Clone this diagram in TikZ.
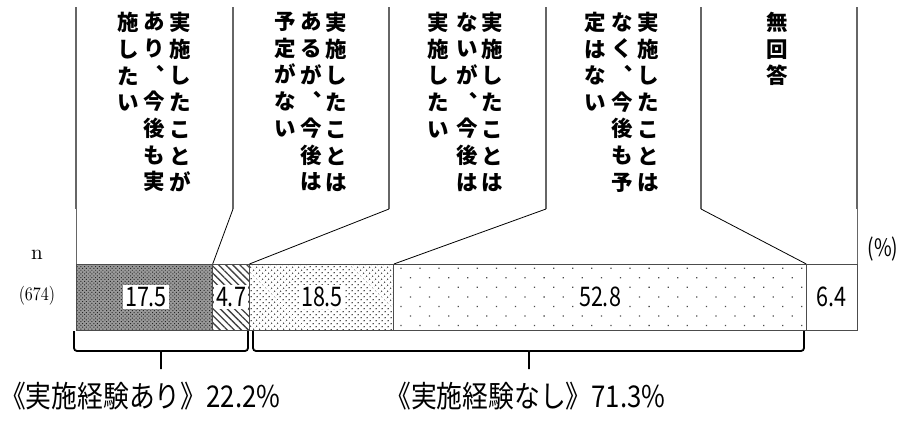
\documentclass[tikz,border=0pt]{standalone}
\usepackage{fontspec}
\usepackage{graphicx}
\usetikzlibrary{patterns.meta}
\newfontfamily\jpfont{Noto Sans CJK JP}
\newcommand{\narrow}[1]{\scalebox{0.8}[1]{#1}}
\newcommand{\wide}[1]{\scalebox{0.86}[1]{#1}}
\begin{document}
\begin{tikzpicture}[x=1pt,y=-1pt]
\useasboundingbox (0,0) rectangle (898,421);
\begin{scope}[every node/.style={inner sep=0pt},
  colline/.style={line width=2pt,black!60},
  sideline/.style={line width=1pt,black!60},
  leader/.style={line width=0.8pt},
  barline/.style={line width=1pt,black!70},
  brace/.style={line width=1.8pt,rounded corners=3pt},
  coltext/.style={anchor=north,align=center,font=\jpfont\bfseries\fontsize{21.5}{26.7}\selectfont},
  val/.style={fill=white,inner sep=2.5pt,font=\jpfont\fontsize{27}{27}\selectfont}]
% column heads
\node[coltext] (a1) at (180,12) {実\\施\\し\\た\\こ\\と\\が};
\node[coltext] (a2) at (154,12) {あ\\り\\︑\\今\\後\\も\\実};
\node[coltext] (a3) at (128,12) {施\\し\\た\\い};
\node[coltext] (b1) at (336,12) {実\\施\\し\\た\\こ\\と\\は};
\node[coltext] (b2) at (311,12) {あ\\る\\が\\︑\\今\\後\\は};
\node[coltext] (b3) at (285,12) {予\\定\\が\\な\\い};
\node[coltext] (c1) at (492,12) {実\\施\\し\\た\\こ\\と\\は};
\node[coltext] (c2) at (467,12) {な\\い\\が\\︑\\今\\後\\は};
\node[coltext] (c3) at (438,12) {実\\施\\し\\た\\い};
\node[coltext] (d1) at (648,12) {実\\施\\し\\た\\こ\\と\\は};
\node[coltext] (d2) at (622,12) {な\\く\\︑\\今\\後\\も\\予};
\node[coltext] (d3) at (595,12) {定\\は\\な\\い};
\node[coltext] (e1) at (777,12) {無\\回\\答};
% column rules
\coordinate (m0) at (76,209);
\coordinate (m1) at (233,209);
\coordinate (m2) at (389,209);
\coordinate (m3) at (546,209);
\coordinate (m4) at (701,209);
\coordinate (m5) at (857,209);
\draw[colline] (m0) -- ++(0,-202);
\draw[colline] (m1) -- ++(0,-202);
\draw[colline] (m2) -- ++(0,-202);
\draw[colline] (m3) -- ++(0,-202);
\draw[colline] (m4) -- ++(0,-202);
\draw[colline] (m5) -- ++(0,-202);
% bar
\coordinate (p0) at (76,264);
\coordinate (p1) at (212.7,264);
\coordinate (p2) at (249.4,264);
\coordinate (p3) at (393.9,264);
\coordinate (p4) at (806.3,264);
\coordinate (p5) at (857,264);
\coordinate (q1) at (212.7,330);
\coordinate (q2) at (249.4,330);
\coordinate (q3) at (393.9,330);
\coordinate (q4) at (806.3,330);
\coordinate (q5) at (857,330);
\draw[barline,preaction={fill=black!40},pattern={Dots[angle=45,distance=2.6pt,radius=0.7pt]},pattern color=black!85] (p0) rectangle (q1);
\draw[barline,pattern={Lines[angle=-45,distance=5pt,line width=1.3pt]},pattern color=black!75] (p1) rectangle (q2);
\draw[barline,pattern={Dots[angle=45,distance=4pt,radius=0.85pt]},pattern color=black!75] (p2) rectangle (q3);
\draw[barline,pattern={Dots[angle=45,distance=13.5pt,radius=0.9pt]},pattern color=black!70] (p3) rectangle (q4);
\draw[barline] (p4) rectangle (q5);
\node[val] (v1) at (146,297) {\narrow{17.5}};
\node[val] (v2) at (231,297) {\narrow{4.7}};
\node[val] (v3) at (322,297) {\narrow{18.5}};
\node[val] (v4) at (600,297) {\narrow{52.8}};
\node[val] (v5) at (831.6,297) {\narrow{6.4}};
% leaders
\draw[sideline] (m0) -- (p0);
\draw[sideline] (m5) -- (p5);
\draw[leader] (m1) -- (p1);
\draw[leader] (m2) -- (p2);
\draw[leader] (m3) -- (p3);
\draw[leader] (m4) -- (p4);
% side labels
\node (n) at (37,255) {\scalebox{2.1}{n}};
\node (size) at (37,296) {\scalebox{1.6}[1.9]{(674)}};
\node (pct) at (883,249) {\jpfont\fontsize{24}{24}\selectfont\narrow{(\%)}};
% braces
\draw[brace] (74,331) -- (74,351) -- (157,351) .. controls (161,351) .. (161,357) -- (161,369);
\draw[brace] (248,331) -- (248,351) -- (165,351) .. controls (161,351) .. (161,357);
\draw[brace] (253,331) -- (253,351) -- (525,351) .. controls (529,351) .. (529,357) -- (529,369);
\draw[brace] (804,331) -- (804,351) -- (533,351) .. controls (529,351) .. (529,357);
\node[anchor=west] (g1) at (0,396) {\jpfont\fontsize{30}{30}\selectfont\wide{《実施経験あり》22.2\%}};
\node[anchor=west] (g2) at (385,396) {\jpfont\fontsize{30}{30}\selectfont\wide{《実施経験なし》71.3\%}};
\end{scope}
\end{tikzpicture}
\end{document}
